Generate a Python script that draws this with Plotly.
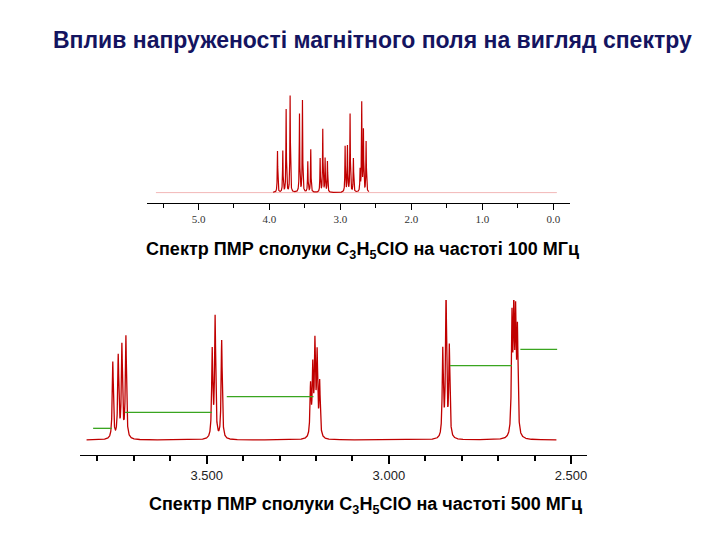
import numpy as np
import plotly.graph_objects as go

# top spectrum (100 MHz): peak positions (ppm) and heights
top_ppm = [3.887, 3.812, 3.765, 3.709, 3.577, 3.535, 3.460, 3.418,
           3.286, 3.249, 3.216, 3.183, 2.934, 2.901, 2.864, 2.817,
           2.723, 2.700, 2.676, 2.638]
top_h = [135, 135, 270, 315, 255, 300, 100, 140,
         110, 205, 110, 100, 150, 150, 255, 110,
         70, 290, 200, 165]
top_ticks = [5.0, 4.0, 3.0, 2.0, 1.0, 0.0]

# bottom spectrum (500 MHz)
bot_ppm = [3.758, 3.743, 3.733, 3.722, 3.485, 3.477, 3.459,
           3.215, 3.209, 3.203, 3.197, 3.190,
           2.852, 2.843, 2.834, 2.662, 2.657, 2.652, 2.647]
bot_h = [230, 245, 275, 305, 260, 360, 295,
         150, 200, 270, 240, 160,
         260, 430, 270, 340, 360, 330, 300]
bot_ticks = [3.5, 3.0, 2.5]

# integral steps: (start ppm, end ppm, level)
integ_x0 = [3.812, 3.724, 3.445, 2.832, 2.639]
integ_x1 = [3.761, 3.486, 3.207, 2.662, 2.538]
integ_y = [35, 83, 130, 223, 272]

# page offset compensation (px)
DX, DY = 8, 8


def px(x):
    return (x - DX) / 720


def py(y):
    return 1 - (y - DY) / 540


def spectrum(x, pos, h, w):
    y = np.zeros_like(x)
    for p, a in zip(pos, h):
        y += a / (1 + ((x - p) / w) ** 2)
    return y


fig = go.Figure()

xt = np.linspace(3.95, 2.6, 4000)
fig.add_trace(go.Scatter(x=[5.6, -0.05], y=[0, 0], mode='lines',
                         line=dict(color='#f2b8b8', width=1), xaxis='x', yaxis='y'))
fig.add_trace(go.Scatter(x=xt, y=spectrum(xt, top_ppm, top_h, 0.004), mode='lines',
                         line=dict(color='#c00000', width=1.2), xaxis='x', yaxis='y'))

xb = np.linspace(3.83, 2.54, 12000)
fig.add_trace(go.Scatter(x=xb, y=spectrum(xb, bot_ppm, bot_h, 0.0018), mode='lines',
                         line=dict(color='#c00000', width=1.3), xaxis='x2', yaxis='y2'))
for a, b, l in zip(integ_x0, integ_x1, integ_y):
    fig.add_trace(go.Scatter(x=[a, b], y=[l, l], mode='lines',
                             line=dict(color='#3aa520', width=1.3), xaxis='x2', yaxis='y2'))

axis_common = dict(showline=True, linecolor='black', linewidth=1, ticks='outside',
                   showgrid=False, zeroline=False, tickcolor='black')

fig.update_layout(
    width=720, height=540, margin=dict(l=0, r=0, t=0, b=0),
    plot_bgcolor='white', paper_bgcolor='white', showlegend=False,
    font=dict(family='Liberation Sans'),
    xaxis=dict(domain=[px(146.7), px(570)], range=[5.73, -0.235], anchor='y',
               tickvals=top_ticks, ticktext=['5.0', '4.0', '3.0', '2.0', '1.0', '0.0'],
               ticklen=6, tickfont=dict(size=11, family='Liberation Serif', color='#333'),
               minor=dict(dtick=0.5, ticklen=4, ticks='outside', tickcolor='black'),
               **axis_common),
    yaxis=dict(domain=[py(202.7), py(80)], range=[-33, 368], visible=False),
    xaxis2=dict(domain=[px(80), px(587)], range=[3.848, 2.456], anchor='y2',
                tickvals=bot_ticks, tickformat='.3f', ticklen=8, tickwidth=2,
                tickfont=dict(size=13, color='#222'),
                minor=dict(dtick=0.1, ticklen=5, ticks='outside', tickcolor='black'),
                **axis_common),
    yaxis2=dict(domain=[py(455), py(300)], range=[-45, 420], visible=False),
    annotations=[
        dict(text='<b>Вплив напруженості магнітного поля на вигляд спектру</b>',
             x=px(372), y=py(40), xref='paper', yref='paper', showarrow=False,
             xanchor='center', yanchor='middle',
             font=dict(size=23, color='#141460')),
        dict(text='<b>Спектр ПМР сполуки C<sub>3</sub>H<sub>5</sub>ClO на частоті 100 МГц</b>',
             x=px(362), y=py(250), xref='paper', yref='paper', showarrow=False,
             xanchor='center', yanchor='middle',
             font=dict(size=18, color='black')),
        dict(text='<b>Спектр ПМР сполуки C<sub>3</sub>H<sub>5</sub>ClO на частоті 500 МГц</b>',
             x=px(365), y=py(505), xref='paper', yref='paper', showarrow=False,
             xanchor='center', yanchor='middle',
             font=dict(size=18, color='black')),
    ],
)

fig.write_html('out.html')
